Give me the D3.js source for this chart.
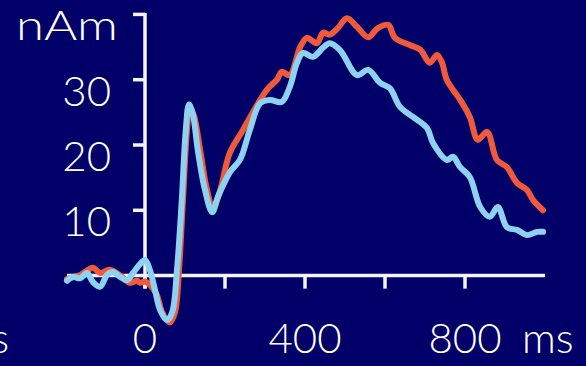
<!DOCTYPE html>
<html><head><meta charset="utf-8">
<script src="https://cdn.jsdelivr.net/npm/d3@7"></script>
<style>html,body{margin:0;padding:0;background:#000068;overflow:hidden}</style>
</head><body>
<svg id="c" width="586" height="366"></svg>
<script>
// Data (time in ms, amplitude in nAm)
const redTime = [-195,-162,-130,-112,-88,-62,-38,-20,-12,0,12,30,42,62,75,85,95,105,112,122,138,155,170,188,212,245,288,308,330,342,362,388,405,430,445,462,482,505,530,558,582,608,625,662,688,712,730,742,755,788,812,832,855,880,905,930,955,970,995];
const redValues = [-0.5,0.1,1.2,0.4,0.9,0,-1.1,-0.8,-1.1,-0.9,-1.4,-3,-5.5,-7.2,-5.6,0.9,11.6,22.3,25.7,24.6,19.2,13.1,10.3,13.1,18.8,22.3,26.9,28.7,30.0,31.2,30.7,35.0,36.4,35.6,37.2,36.9,37.9,39.4,38.1,36.5,37.9,38.4,36.4,35.3,34.6,32.6,33.8,32.7,29.9,26.9,24.3,20.8,22.0,17.7,16.6,14.2,13.1,11.6,10.0];
const blueTime = [-195,-180,-162,-145,-130,-112,-95,-80,-62,-45,-30,-12,0,12,25,38,55,68,80,92,102,110,120,132,150,168,182,212,238,262,288,312,342,362,380,395,420,445,462,488,530,558,588,612,638,670,705,720,755,770,788,812,838,862,882,905,930,955,980,995];
const blueValues = [-0.8,-0.2,-0.4,0.4,-1.0,-1.7,0.1,0.55,-0.2,-0.7,0.4,1.8,2.4,0.9,-2.2,-5.3,-6.8,-5.6,0.9,11.6,22.3,26.2,24.6,19.2,13.1,9.7,12.0,15.8,17.8,22.3,26.4,26.9,26.6,28.9,32.6,34.1,33.5,34.9,35.6,34.5,30.7,31.5,29.5,28.7,25.8,24.3,22.6,20.3,17.7,18.2,16.6,15.1,10.5,9.0,10.5,7.4,7.0,6.2,6.7,6.7];
const yTicks = [10, 20, 30, 40];
const yTickLabels = ["10", "20", "30", "nAm"];
const xTicks = [0, 200, 400, 600, 800];
const xTickLabels = {0: "0", 400: "400", 800: "800"};

const svg = d3.select("#c");
svg.append("rect").attr("width",586).attr("height",366).attr("fill","#000068");

const x = d3.scaleLinear().domain([-200, 1000]).range([65, 545]);
const y = d3.scaleLinear().domain([0, 40]).range([275.6, 14.4]);

const font = "Lato, 'Open Sans', sans-serif";
const fw = 300;
const fs = 42;
const axisColor = "#f4f4f8";

// x axis line
svg.append("line").attr("x1", x(-195)).attr("x2", x(1000))
  .attr("y1", y(0)).attr("y2", y(0))
  .attr("stroke", axisColor).attr("stroke-width", 3.5);
// x ticks
svg.selectAll(".xt").data(xTicks).join("line")
  .attr("x1", d => x(d)).attr("x2", d => x(d))
  .attr("y1", y(0)).attr("y2", y(0) + 13)
  .attr("stroke", axisColor).attr("stroke-width", 3.5);
// y axis line
svg.append("line").attr("x1", x(0)).attr("x2", x(0))
  .attr("y1", y(40) - 1.5).attr("y2", y(0) + 13)
  .attr("stroke", axisColor).attr("stroke-width", 3.5);
// y ticks
svg.selectAll(".yt").data(yTicks).join("line")
  .attr("x1", x(0) - 12).attr("x2", x(0))
  .attr("y1", d => y(d)).attr("y2", d => y(d))
  .attr("stroke", axisColor).attr("stroke-width", 3.5);

// y tick labels
svg.selectAll(".yl").data(yTicks).join("text")
  .attr("x", (d,i) => yTickLabels[i] === "nAm" ? 118 : 111)
  .attr("y", d => y(d) + 26)
  .attr("text-anchor", "end")
  .attr("font-family", font).attr("font-size", fs).attr("font-weight", fw)
  .attr("fill", "#ffffff")
  .attr("textLength", (d,i) => yTickLabels[i] === "nAm" ? 102 : null)
  .attr("lengthAdjust", "spacingAndGlyphs")
  .text((d,i) => yTickLabels[i]);

// x tick labels
svg.selectAll(".xl").data(xTicks.filter(d => xTickLabels[d] !== undefined)).join("text")
  .attr("x", d => x(d)).attr("y", 353)
  .attr("text-anchor", "middle")
  .attr("font-family", font).attr("font-size", fs).attr("font-weight", fw)
  .attr("fill", "#ffffff")
  .text(d => xTickLabels[d]);
svg.append("text").attr("x", 522).attr("y", 353)
  .attr("font-family", font).attr("font-size", fs).attr("font-weight", fw)
  .attr("fill", "#ffffff").text("ms");
svg.append("text").attr("x", 9).attr("y", 353).attr("text-anchor", "end")
  .attr("font-family", font).attr("font-size", fs).attr("font-weight", fw)
  .attr("fill", "#ffffff").text("ms");

const line = d3.line().x(d => x(d[0])).y(d => y(d[1])).curve(d3.curveCatmullRom.alpha(0.5));
svg.append("path").datum(redTime.map((t,i) => [t, redValues[i]]))
  .attr("d", line).attr("fill", "none").attr("stroke", "#f05a3a")
  .attr("stroke-width", 6).attr("stroke-linejoin", "round").attr("stroke-linecap", "round");
svg.append("path").datum(blueTime.map((t,i) => [t, blueValues[i]]))
  .attr("d", line).attr("fill", "none").attr("stroke", "#8dd3f1")
  .attr("stroke-width", 6).attr("stroke-linejoin", "round").attr("stroke-linecap", "round");
</script>
</body></html>
